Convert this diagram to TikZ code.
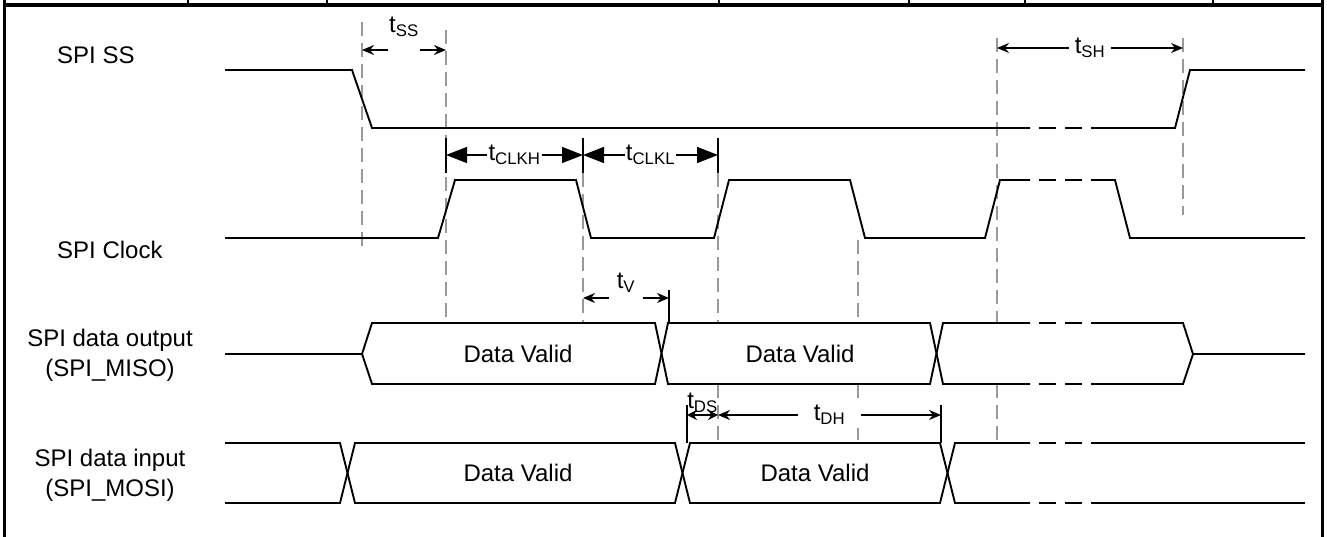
\documentclass[tikz,border=0pt]{standalone}
\usepackage{fontspec}
\setmainfont{Liberation Sans}
\usetikzlibrary{arrows.meta}
\usetikzlibrary{calc}
\usetikzlibrary{positioning}

\newcommand{\tm}[1]{t\textsubscript{#1}}

\begin{document}
\begin{tikzpicture}[x=1pt,y=-1pt,
    sig/.style={line width=1.9pt,line join=miter},
    gapdash/.style={sig,dash pattern=on 17pt off 9pt,dash phase=17pt},
    guide/.style={black!40,line width=1.3pt,dash pattern=on 14pt off 7pt},
    dim/.style={line width=1.4pt,-{Stealth[length=12pt,width=10pt]}},
    dimb/.style={line width=1.4pt,{Stealth[length=10pt,width=10pt]}-{Stealth[length=10pt,width=10pt]}},
    bigdim/.style={line width=1.4pt,-{Triangle[length=21pt,width=16pt]}},
    tick/.style={line width=1.4pt},
    txt/.style={font=\fontsize{24}{30}\selectfont,inner sep=0pt,align=center},
    tlab/.style={font=\fontsize{24}{25}\selectfont,inner sep=3pt},
    gap/.style={fill=white,inner sep=0pt,minimum height=4pt}]
    \useasboundingbox (0,0) rectangle (1327,537);
    \pgfmathsetmacro{\ssH}{70}
    \pgfmathsetmacro{\ssL}{128}
    \pgfmathsetmacro{\ckH}{180}
    \pgfmathsetmacro{\ckL}{238}
    \pgfmathsetmacro{\miT}{323}
    \pgfmathsetmacro{\miB}{384}
    \pgfmathsetmacro{\miM}{354}
    \pgfmathsetmacro{\moT}{443}
    \pgfmathsetmacro{\moB}{503}

    % frame and table stubs
    \draw[line width=3pt] (4,0) -- (4,537) (1322,0) -- (1322,537);
    \draw[line width=3.5pt] (4,5) -- (1322,5);
    \foreach \cx in {188,327,719,909,1025,1213}
        \draw[line width=2pt] (\cx,0) -- (\cx,5);

    % guides
    \draw[guide] (362,22) -- (362,248);
    \draw[guide] (446,30) -- (446,\miT);
    \draw[guide] (583,173) -- (583,\miT);
    \draw[guide] (718,173) -- (718,\miT) (718,\miB) -- (718,\moT);
    \draw[guide] (858,240) -- (858,\miT) (858,\miB) -- (858,\moT);
    \draw[guide] (997,38) -- (997,\miT) (997,\miB) -- (997,\moT);
    \draw[guide] (1183,38) -- (1183,215);

    % labels
    \node[txt,anchor=west] (lss) at (57,55) {SPI SS};
    \node[txt,anchor=west] (lclk) at (57,250) {SPI Clock};
    \node[txt] (lmiso) at (110,355) {SPI data output\\(SPI\_MISO)};
    \node[txt] (lmosi) at (110,475) {SPI data input\\(SPI\_MOSI)};

    % SPI SS
    \draw[sig] (225,\ssH) -- (352,\ssH) -- (372,\ssL) -- (1030,\ssL);
    \draw[gapdash] (1030,\ssL) -- (1091,\ssL);
    \draw[sig] (1091,\ssL) -- (1175,\ssL) -- (1190,\ssH) -- (1305,\ssH);

    % SPI Clock
    \draw[sig] (225,\ckL) -- (438,\ckL) -- (455,\ckH) -- (576,\ckH) -- (591,\ckL)
        -- (714,\ckL) -- (729,\ckH) -- (850,\ckH) -- (865,\ckL) -- (985,\ckL)
        -- (1000,\ckH) -- (1030,\ckH);
    \draw[gapdash] (1030,\ckH) -- (1091,\ckH);
    \draw[sig] (1091,\ckH) -- (1115,\ckH) -- (1130,\ckL) -- (1305,\ckL);

    % SPI_MISO
    \draw[sig] (225,\miM) -- (362,\miM) -- (372,\miT) -- (655,\miT) -- (668,\miB)
        -- (930,\miB) -- (943,\miT) -- (1030,\miT);
    \draw[sig] (362,\miM) -- (372,\miB) -- (655,\miB) -- (668,\miT)
        -- (930,\miT) -- (943,\miB) -- (1030,\miB);
    \draw[gapdash] (1030,\miT) -- (1091,\miT) (1030,\miB) -- (1091,\miB);
    \draw[sig] (1091,\miT) -- (1183,\miT) -- (1193,\miM) -- (1305,\miM);
    \draw[sig] (1091,\miB) -- (1183,\miB) -- (1193,\miM);

    % SPI_MOSI
    \draw[sig] (225,\moT) -- (340,\moT) -- (355,\moB) -- (675,\moB) -- (690,\moT)
        -- (940,\moT) -- (955,\moB) -- (1030,\moB);
    \draw[sig] (225,\moB) -- (340,\moB) -- (355,\moT) -- (675,\moT) -- (690,\moB)
        -- (940,\moB) -- (955,\moT) -- (1030,\moT);
    \draw[gapdash] (1030,\moT) -- (1091,\moT) (1030,\moB) -- (1091,\moB);
    \draw[sig] (1091,\moT) -- (1305,\moT) (1091,\moB) -- (1305,\moB);

    \node[txt] (dv1) at (518,\miM) {Data Valid};
    \node[txt] (dv2) at (800,\miM) {Data Valid};
    \node[txt] (dv3) at (518,473) {Data Valid};
    \node[txt] (dv4) at (815,473) {Data Valid};

    % timings
    \path (362,50) coordinate (ssA) (446,50) coordinate (ssB)
        (997,48) coordinate (shA) (1183,48) coordinate (shB)
        (446,155) coordinate (chA) (583,155) coordinate (chB) (718,155) coordinate (clB)
        (583,298) coordinate (vA) (669,298) coordinate (vB)
        (687,415) coordinate (dsA) (718,415) coordinate (dsB) (941,415) coordinate (dhB);

    \node[gap,minimum width=32pt] (gss) at ($(ssA)!0.5!(ssB)$) {};
    \node[tlab,above=8pt of gss] (tss) {\tm{SS}};
    \draw[dim] (gss) -- (ssA);
    \draw[dim] (gss) -- (ssB);

    \node[tlab,fill=white,inner xsep=6pt] (tsh) at ($(shA)!0.5!(shB)$) {\tm{SH}};
    \draw[dim] (tsh) -- (shA);
    \draw[dim] (tsh) -- (shB);

    \draw[tick] (446,138) -- (446,173) (583,138) -- (583,173) (718,138) -- (718,173);
    \node[tlab,inner xsep=1pt] (tch) at ($(chA)!0.5!(chB)$) {\tm{CLKH}};
    \draw[bigdim] (tch) -- (chA);
    \draw[bigdim] (tch) -- (chB);
    \node[tlab,inner xsep=1pt] (tcl) at ($(chB)!0.5!(clB)$) {\tm{CLKL}};
    \draw[bigdim] (tcl) -- (chB);
    \draw[bigdim] (tcl) -- (clB);

    \draw[tick] (669,290) -- (669,\miT);
    \node[gap,minimum width=33pt] (gv) at ($(vA)!0.5!(vB)$) {};
    \node[tlab,above=0pt of gv] (tv) {\tm{V}};
    \draw[dim] (gv) -- (vA);
    \draw[dim] (gv) -- (vB);

    \draw[tick] (687,405) -- (687,\moT) (941,405) -- (941,\moT);
    \draw[dimb] (dsA) -- node[tlab,above=-1pt] (tds) {\tm{DS}} (dsB);
    \node[tlab,fill=white,inner xsep=16pt] (tdh) at ($(dsB)!0.5!(dhB)$) {\tm{DH}};
    \draw[dim] (tdh) -- (dsB);
    \draw[dim] (tdh) -- (dhB);
\end{tikzpicture}
\end{document}
